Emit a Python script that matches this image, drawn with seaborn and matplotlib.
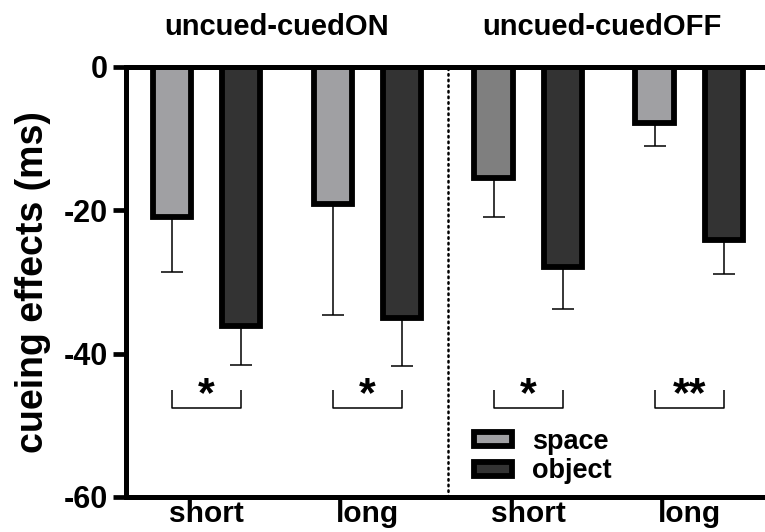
import numpy as np
import pandas as pd
import matplotlib
matplotlib.use("Agg")
import matplotlib.pyplot as plt
import seaborn as sns

# Conditions (cue type x delay), in plotting order
conditions = ["ON short", "ON long", "OFF short", "OFF long"]
tick_labels = ["short", "long", "short", "long"]
group_titles = ["uncued-cuedON", "uncued-cuedOFF"]
cue_types = ["space", "object"]

# Mean cueing effects (ms) and their standard errors
space_means = [-21.0, -19.2, -15.5, -7.9]
space_sem = [7.7, 15.4, 5.5, 3.1]
object_means = [-36.2, -35.1, -28.0, -24.2]
object_sem = [5.4, 6.6, 5.8, 4.7]

# Significance of the space vs object comparison per condition
sig_labels = ["*", "*", "*", "**"]

y_ticks = [0, -20, -40, -60]
y_tick_labels = ["0", "-20", "-40", "-60"]

df = pd.DataFrame({
    "condition": conditions * 2,
    "cue": ["space"] * len(conditions) + ["object"] * len(conditions),
    "effect": space_means + object_means,
})

sns.set_theme(style="white")
plt.rcParams["font.family"] = ["Liberation Sans", "DejaVu Sans"]
plt.rcParams["font.weight"] = "bold"
for key in ["text.color", "axes.labelcolor", "xtick.color", "ytick.color"]:
    plt.rcParams[key] = "black"

fig = plt.figure(figsize=(7.65, 5.32), dpi=100)
ax = fig.add_axes([0.1647, 0.0658, 0.8353, 0.809])

palette = {"space": "#a0a0a3", "object": "#333333"}
sns.barplot(data=df, x="condition", y="effect", hue="cue", order=conditions,
            hue_order=cue_types, palette=palette, saturation=1,
            width=0.863, gap=0.447, edgecolor="black", linewidth=4.2,
            errorbar=None, ax=ax)

space_bars = ax.containers[0]
object_bars = ax.containers[1]
# the short-delay space bar in the OFF block is a darker grey
space_bars[2].set_facecolor("#7f7f7f")

def centre(bar):
    return bar.get_x() + bar.get_width() / 2

# one-sided (downward) error bars
for bars, means, sems in [(space_bars, space_means, space_sem),
                          (object_bars, object_means, object_sem)]:
    xs = [centre(b) for b in bars]
    ax.errorbar(xs, means, yerr=[sems, [0] * len(sems)], fmt="none",
                ecolor="black", elinewidth=1.1, capsize=7.9, capthick=1.1,
                zorder=0.5)

# significance brackets
top, bottom = -45.1, -47.6
for sb, ob, lab in zip(space_bars, object_bars, sig_labels):
    x1, x2 = centre(sb), centre(ob)
    ax.plot([x1, x1, x2, x2], [top, bottom, bottom, top], color="black",
            lw=1.1, solid_capstyle="butt")
    ax.text((x1 + x2) / 2, -47.3, lab, ha="center", va="baseline",
            fontsize=31, fontweight="bold")

# separator between the two blocks
ax.axvline(1.5, color="black", linestyle=(0, (0.6, 1.65)), linewidth=1.8,
           dash_capstyle="round")

ax.set_xlim(-0.5, 3.47)
ax.set_ylim(-60, 0)
ax.set_yticks(y_ticks)
ax.set_yticklabels(y_tick_labels, fontsize=22, fontweight="bold")
ax.set_xticks(range(len(conditions)))
ax.set_xticklabels(tick_labels, fontsize=21.5, fontweight="bold")
ax.tick_params(axis="y", direction="out", length=9.4, width=3.4, pad=3.5,
               left=True, color="black")
ax.tick_params(axis="x", length=0, pad=2)
ax.set_xlabel("")
ax.set_ylabel("cueing effects (ms)", fontsize=27, fontweight="bold")
ax.yaxis.set_label_coords(-0.117, 0.5)

for side in ["left", "bottom", "top"]:
    ax.spines[side].set_visible(True)
    ax.spines[side].set_color("black")
    ax.spines[side].set_linewidth(3.6)
ax.spines["right"].set_visible(False)

# group titles above each block
for xpix, title in zip([277, 602], group_titles):
    fig.text(xpix / 765, 1 - 27 / 532, title, ha="center", va="center",
             fontsize=21, fontweight="bold")

leg = ax.legend(loc="upper left", bbox_to_anchor=(0.545, 0.158),
                frameon=False, fontsize=19.5, handlelength=1.4,
                handleheight=0.42, handletextpad=0.75, labelspacing=0.12,
                borderpad=0, borderaxespad=0)
for t in leg.get_texts():
    t.set_fontweight("bold")

fig.savefig("out.png", dpi=100)
